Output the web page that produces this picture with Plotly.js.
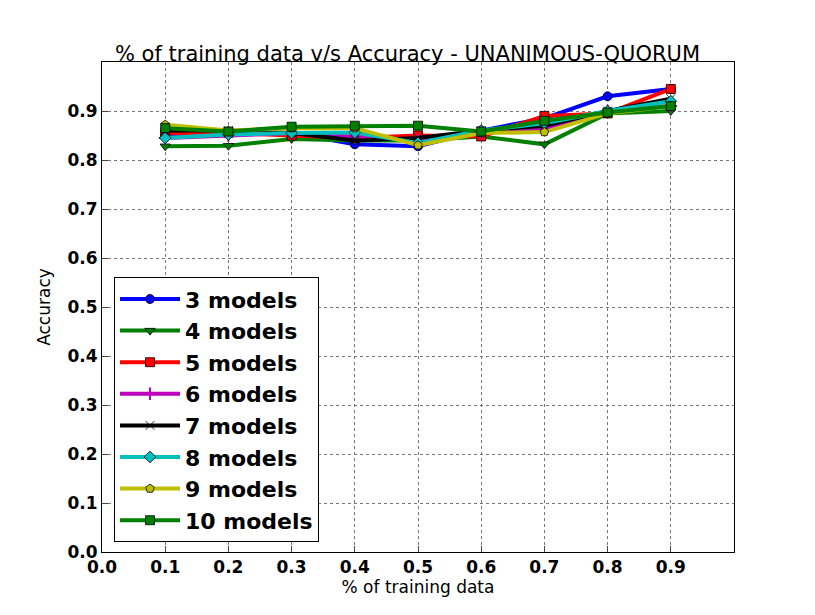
<!DOCTYPE html>
<html><head><script src="https://cdn.plot.ly/plotly-3.0.1.min.js"></script></head>
<body style="margin:0"><div id="plot"></div>
<script>
var xVals = [0.1, 0.2, 0.3, 0.4, 0.5, 0.6, 0.7, 0.8, 0.9];
var labels = ['3 models', '4 models', '5 models', '6 models', '7 models', '8 models', '9 models', '10 models'];
var m3 = [0.850, 0.855, 0.855, 0.832, 0.828, 0.860, 0.885, 0.930, 0.945];
var m4 = [0.828, 0.829, 0.843, 0.840, 0.840, 0.848, 0.832, 0.895, 0.900];
var m5 = [0.855, 0.855, 0.850, 0.845, 0.850, 0.848, 0.890, 0.895, 0.945];
var m6 = [0.845, 0.850, 0.855, 0.848, 0.840, 0.855, 0.865, 0.900, 0.910];
var m7 = [0.860, 0.860, 0.855, 0.840, 0.845, 0.860, 0.870, 0.900, 0.925];
var m8 = [0.845, 0.852, 0.855, 0.856, 0.835, 0.860, 0.875, 0.900, 0.920];
var m9 = [0.872, 0.860, 0.865, 0.865, 0.830, 0.855, 0.857, 0.895, 0.910];
var m10 = [0.865, 0.858, 0.868, 0.870, 0.870, 0.858, 0.880, 0.897, 0.910];
var series = [m3, m4, m5, m6, m7, m8, m9, m10];
var colors = ['#0000ff', '#008000', '#ff0000', '#bf00bf', '#000000', '#00bfbf', '#bfbf00', '#008000'];
var symbols = ['circle', 'triangle-down', 'square', 'cross-thin', 'x-thin', 'diamond', 'pentagon', 'square'];

var data = [];
for (var i = 0; i < series.length; i++) {
  data.push({
    x: xVals, y: series[i], name: labels[i], type: 'scatter', mode: 'lines+markers',
    line: {color: colors[i], width: 4},
    marker: {symbol: symbols[i], size: 9, color: colors[i], line: {color: i == 3 ? colors[i] : '#000', width: i == 3 ? 2 : 0.8}}
  });
}

var tickFont = {family: 'DejaVu Sans', size: 17, color: '#000', weight: 'bold'};
var tv = [0, 0.1, 0.2, 0.3, 0.4, 0.5, 0.6, 0.7, 0.8, 0.9];
var tt = ['0.0','0.1','0.2','0.3','0.4','0.5','0.6','0.7','0.8','0.9'];
function axis(title, standoff) {
  return {range: [0, 1.0], tickvals: tv, ticktext: tt,
    showgrid: true, gridcolor: '#777', griddash: 'dot', gridwidth: 1, zeroline: false, showline: true, mirror: true, linecolor: '#000',
    ticks: 'inside', ticklen: 6, tickfont: tickFont,
    title: {text: title, standoff: standoff, font: {family: 'DejaVu Sans', size: 17, color: '#000'}}};
}
var layout = {
  width: 815, height: 615, showlegend: true,
  paper_bgcolor: '#fff', plot_bgcolor: '#fff',
  margin: {l: 102, r: 81, t: 62, b: 63},
  title: {text: '% of training data v/s Accuracy - UNANIMOUS-QUORUM', font: {family: 'DejaVu Sans', size: 21, color: '#000'}, x: 0.5, y: 0.925, xanchor: 'center'},
  xaxis: axis('% of training data', 4),
  yaxis: axis('Accuracy', 12),
  legend: {x: 0.019, y: 0.02, xanchor: 'left', yanchor: 'bottom', bgcolor: '#fff', bordercolor: '#000', borderwidth: 1,
    font: {family: 'DejaVu Sans', size: 22, color: '#000', weight: 'bold'}, itemwidth: 60}
};
Plotly.newPlot('plot', data, layout, {displayModeBar: false});
</script></body></html>
